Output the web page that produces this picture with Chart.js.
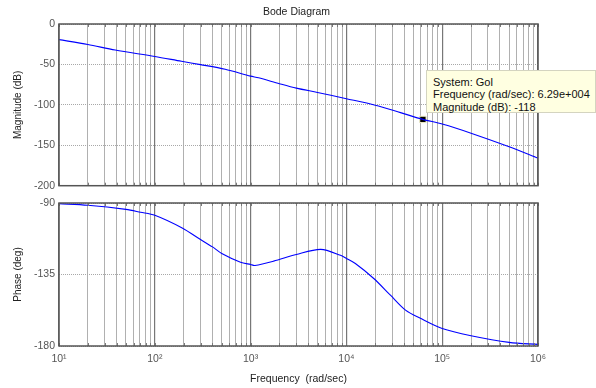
<!DOCTYPE html>
<html lang="en">
<head>
<meta charset="UTF-8">
<title>Bode Diagram</title>
<script src="https://cdn.jsdelivr.net/npm/chart.js"></script>
<style>
  body { margin: 0; background: #fff; }
  #wrap { position: relative; width: 596px; height: 388px; font-family: 'Liberation Sans', Arial, sans-serif; }
  canvas { position: absolute; left: 0; }
  #tip {
    position: absolute; left: 426px; top: 70px; width: 162px; height: 36px;
    background: #ffffe1; border: 1px solid #d4d4c0; padding: 5px 0 0 6px;
    font-size: 11px; line-height: 12.3px; color: #111; white-space: nowrap;
  }
</style>
</head>
<body>
<div id="wrap">
  <canvas id="mag" width="596" height="196" style="top:0"></canvas>
  <canvas id="ph" width="596" height="198" style="top:190px"></canvas>
  <div id="tip">System: Gol<br>Frequency (rad/sec): 6.29e+004<br>Magnitude (dB): -118</div>
</div>
<script>
// magnitude curve (rad/sec, dB)
const magFreq = [10, 20, 38.6, 100, 190, 300, 543, 1000, 1210, 2000, 3000, 5000, 10000, 20000, 36700, 62900, 100000, 200000, 500000, 1000000];
const magDb = [-19.3, -25.3, -32.2, -40.1, -46.1, -50.2, -56, -64.5, -66.5, -73.8, -79.3, -84.7, -92.4, -100.4, -109.6, -118, -123.7, -135, -151.8, -165.9];

// phase curve (rad/sec, deg)
const phFreq = [10, 20, 50, 71, 100, 193, 300, 400, 500, 785, 1000, 1110, 1740, 3000, 5400, 8670, 10000, 12400, 19300, 28800, 41400, 59300, 100000, 200000, 500000, 1000000];
const phDeg = [-90.4, -91.4, -94, -95.8, -97.7, -105.7, -113, -117.6, -121.8, -127.3, -128.7, -129.3, -126.6, -122.4, -119.2, -122.9, -124.9, -128.1, -137.5, -148, -157.4, -162.6, -169, -173.5, -177.7, -179];

// data cursor
const cursorFreq = 62900;
const cursorDb = -118;

const decades = [10, 100, 1000, 10000, 100000, 1000000];
const magTicks = [0, -50, -100, -150, -200];
const phTicks = [-90, -135, -180];

const FONT = "'Liberation Sans', Arial, sans-serif";
const superDigits = ['⁰', '¹', '²', '³', '⁴', '⁵', '⁶'];

// grid lines at 1..9 x 10^n
const gridVals = [];
decades.slice(0, -1).forEach(d => { for (let m = 1; m < 10; m++) gridVals.push(d * m); });
gridVals.push(decades[decades.length - 1]);

const isDecade = v => decades.includes(v);

// box around plot area + small inside tick marks
const boxPlugin = {
    id: 'box',
    afterDraw(chart) {
        const { ctx, chartArea: a } = chart;
        const xs = chart.scales.x;
        ctx.save();
        ctx.strokeStyle = '#7a7a7a';
        ctx.lineWidth = 1;
        xs.ticks.forEach(t => {
            const px = Math.round(xs.getPixelForValue(t.value)) + 0.5;
            ctx.beginPath();
            ctx.moveTo(px, a.top); ctx.lineTo(px, a.top + 3);
            ctx.moveTo(px, a.bottom); ctx.lineTo(px, a.bottom - 3);
            ctx.stroke();
        });
        ctx.strokeStyle = '#555';
        ctx.lineWidth = 1.5;
        ctx.strokeRect(a.left, a.top, a.right - a.left, a.bottom - a.top);
        ctx.restore();
    }
};

// title centred over the plot area
const titlePlugin = {
    id: 'bodeTitle',
    afterDraw(chart) {
        const { ctx, chartArea: a } = chart;
        ctx.save();
        ctx.font = '10.5px ' + FONT;
        ctx.fillStyle = '#222';
        ctx.textAlign = 'center';
        ctx.textBaseline = 'middle';
        ctx.fillText('Bode Diagram', (a.left + a.right) / 2 - 2, 12.5);
        ctx.restore();
    }
};

function xScale(showLabels) {
    return {
        type: 'logarithmic',
        min: 10,
        max: 1000000,
        afterBuildTicks: s => { s.ticks = gridVals.map(v => ({ value: v })); },
        afterFit: s => { s.height = showLabels ? 42 : 0; },
        grid: {
            drawTicks: false,
            color: c => isDecade(c.tick.value) ? '#777' : '#b0b0b0',
            lineWidth: c => isDecade(c.tick.value) ? 1.2 : 1
        },
        border: { display: false },
        ticks: {
            display: showLabels,
            autoSkip: false,
            maxRotation: 0,
            padding: 7,
            color: '#555',
            font: { family: FONT, size: 10.5 },
            callback: v => isDecade(v) ? '10' + superDigits[Math.round(Math.log10(v))] : ''
        },
        title: {
            display: showLabels,
            text: 'Frequency  (rad/sec)',
            color: '#222',
            font: { family: FONT, size: 10.5 },
            padding: { top: 0, bottom: 3 }
        }
    };
}

function yScale(min, max, tickVals, label) {
    return {
        min: min,
        max: max,
        afterBuildTicks: s => { s.ticks = tickVals.map(v => ({ value: v })); },
        afterFit: s => { s.width = 59; },
        grid: { drawTicks: false, color: '#a8a8a8', lineWidth: 1 },
        border: { display: false, dash: [1, 1] },
        ticks: {
            padding: 4,
            color: '#555',
            font: { family: FONT, size: 10.5 }
        },
        title: {
            display: true,
            text: label,
            color: '#222',
            font: { family: FONT, size: 10 },
            padding: { top: 12, bottom: 0 }
        }
    };
}

const baseOpts = {
    responsive: false,
    animation: false,
    plugins: { legend: { display: false }, tooltip: { enabled: false } },
    elements: { point: { radius: 0 } }
};

new Chart(document.getElementById('mag'), {
    type: 'line',
    data: {
        datasets: [
            {
                data: magFreq.map((f, i) => ({ x: f, y: magDb[i] })),
                borderColor: '#0000ff',
                borderWidth: 1.1,
                tension: 0.3
            },
            {
                data: [{ x: cursorFreq, y: cursorDb }],
                showLine: false,
                pointStyle: 'rect',
                pointRadius: 4.5,
                backgroundColor: '#000',
                borderColor: '#f2f0c8',
                borderWidth: 1
            }
        ]
    },
    options: Object.assign({}, baseOpts, {
        layout: { padding: { left: 0, right: 58, top: 24, bottom: 6 } },
        scales: {
            x: xScale(false),
            y: yScale(-200, 0, magTicks, 'Magnitude (dB)')
        }
    }),
    plugins: [boxPlugin, titlePlugin]
});

new Chart(document.getElementById('ph'), {
    type: 'line',
    data: {
        datasets: [{
            data: phFreq.map((f, i) => ({ x: f, y: phDeg[i] })),
            borderColor: '#0000ff',
            borderWidth: 1.1,
            tension: 0.3
        }]
    },
    options: Object.assign({}, baseOpts, {
        layout: { padding: { left: 0, right: 58, top: 13, bottom: 0 } },
        scales: {
            x: xScale(true),
            y: yScale(-180, -90, phTicks, 'Phase (deg)')
        }
    }),
    plugins: [boxPlugin]
});
</script>
</body>
</html>
